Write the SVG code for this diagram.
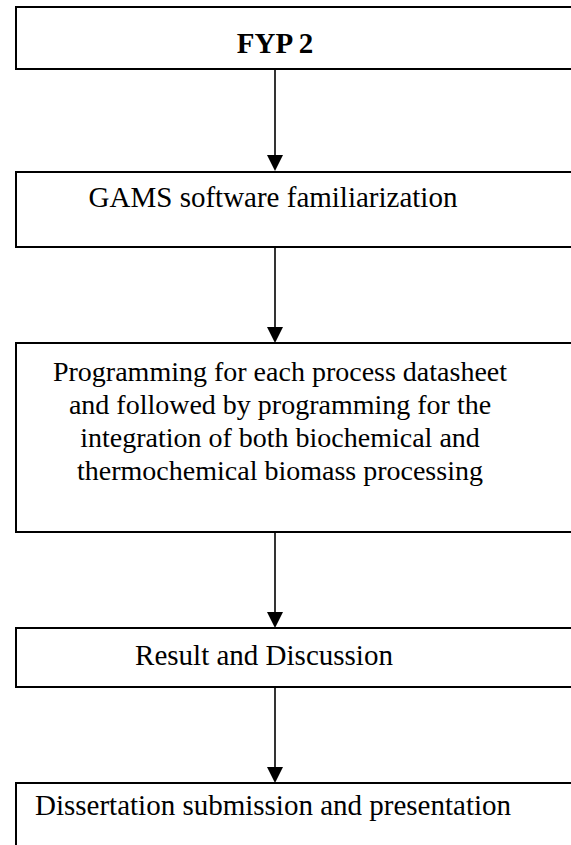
<svg xmlns="http://www.w3.org/2000/svg" width="571" height="845" viewBox="0 0 571 845">
<style>
.box{fill:#fff;stroke:#000;stroke-width:2}
.t{font-family:"Liberation Serif","Times New Roman",serif;font-size:29px;fill:#000;text-anchor:middle}
.s{font-size:28px}
.b{font-weight:bold}
.c{stroke:#000;stroke-width:1.6;fill:none}
.h{fill:#000}
</style>
<rect width="571" height="845" fill="#fff"/>
<g id="connectors">
<line class="c" x1="275" y1="69" x2="275" y2="156"/><path class="h" d="M267,155 L283,155 L275,171 Z"/>
<line class="c" x1="275" y1="247" x2="275" y2="328"/><path class="h" d="M267,327 L283,327 L275,343 Z"/>
<line class="c" x1="275" y1="532" x2="275" y2="613"/><path class="h" d="M267,612 L283,612 L275,628 Z"/>
<line class="c" x1="275" y1="687" x2="275" y2="768"/><path class="h" d="M267,767 L283,767 L275,783 Z"/>
</g>
<g id="n1"><rect class="box" x="16" y="7" width="570" height="62"/><text class="t b" x="275" y="53">FYP 2</text></g>
<g id="n2"><rect class="box" x="16" y="172" width="570" height="75"/><text class="t" x="273" y="207">GAMS software familiarization</text></g>
<g id="n3"><rect class="box" x="16" y="343" width="570" height="189"/>
<text class="t s" x="280" y="381">Programming for each process datasheet</text>
<text class="t s" x="280" y="414">and followed by programming for the</text>
<text class="t s" x="280" y="447">integration of both biochemical and</text>
<text class="t s" x="280" y="480">thermochemical biomass processing</text></g>
<g id="n4"><rect class="box" x="16" y="628" width="570" height="59"/><text class="t" x="264" y="665">Result and Discussion</text></g>
<g id="n5"><rect class="box" x="16" y="783" width="570" height="80"/><text class="t" x="273" y="815">Dissertation submission and presentation</text></g>
</svg>
